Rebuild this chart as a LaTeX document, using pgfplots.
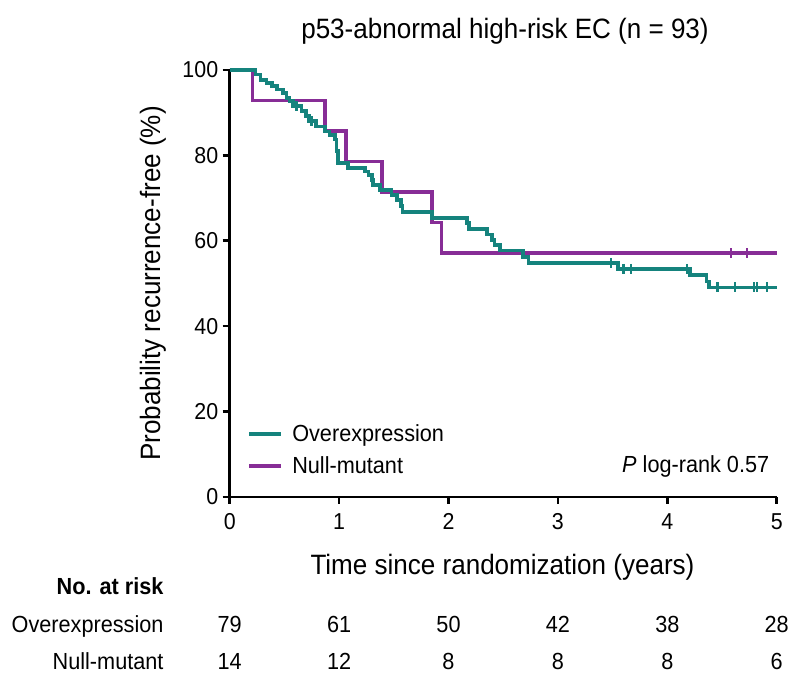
\documentclass[border=0pt]{standalone}
\usepackage{fontspec}
\setmainfont{Liberation Sans}[FakeStretch=0.93]
\usepackage{pgfplots}
\pgfplotsset{compat=1.18}
\definecolor{tealc}{RGB}{21,131,125}
\definecolor{purpc}{RGB}{135,45,150}
\newcommand{\smallf}{\fontsize{23.3}{28}\selectfont}
\newcommand{\bigf}{\fontsize{28}{33}\selectfont}
\begin{document}
\begin{tikzpicture}
\useasboundingbox (0pt,0pt) rectangle (800pt,684pt);
\begin{axis}[
  at={(229.7pt,187pt)}, anchor=south west,
  scale only axis, width=547pt, height=427pt,
  xmin=0, xmax=5, ymin=0, ymax=100,
  axis lines=left, axis line style={-, line width=2.6pt},
  xtick={0,1,2,3,4,5}, ytick={0,20,40,60,80,100},
  tick align=outside, major tick length=7pt,
  tick style={line width=2.6pt, black},
  /pgf/number format/assume math mode=true,
  every tick label/.append style={font=\fontsize{23}{27}\selectfont},
  xticklabel style={yshift=-6pt},
  yticklabel style={xshift=-1pt},
  clip=false,
  reverse legend,
  legend style={draw=none, fill=none, at={(axis description cs:0.0329,0.1693)}, anchor=north west,
    inner sep=0pt, outer sep=0pt, row sep=10pt, column sep=9pt,
    nodes={inner sep=0pt, text height=17pt, text depth=5pt},
    cells={anchor=base west}, font=\smallf},
  legend image code/.code={\draw[#1] (0pt,7.7pt) -- (32pt,7.7pt);},
]
\addplot[const plot, purpc, line width=3.6pt] coordinates {
(0,100) (0.21,92.86) (0.87,85.71) (1.063,78.57) (1.39,71.43) (1.85,64.29) (1.935,57.14) (5,57.14)};
\addlegendentry{Null-mutant}
\addplot[const plot, tealc, line width=3.6pt] coordinates {
(0,100) (0.234,98.9) (0.283,97.7) (0.335,96.9) (0.387,96.2) (0.435,95.4) (0.487,94.6)
(0.518,93.5) (0.548,92.7) (0.58,91.6) (0.655,90.4) (0.70,89.2) (0.725,88.0) (0.79,86.8)
(0.87,85.6) (0.914,84.8) (0.96,83.7) (0.975,81.0) (0.99,78.2) (1.084,77.0) (1.237,76.2)
(1.267,75.4) (1.30,74.2) (1.31,73.1) (1.374,71.9) (1.48,70.7) (1.527,69.6) (1.565,68.1)
(1.58,66.8) (1.85,65.4) (2.17,64.1) (2.19,62.8) (2.35,61.5) (2.40,60.2) (2.42,59.0)
(2.47,57.7) (2.68,56.2) (2.73,54.8) (3.55,53.4) (4.21,52.0) (4.36,50.5) (4.38,49.1) (5,49.1)};
\addlegendentry{Overexpression}
\addplot[forget plot, only marks, mark=|, mark size=5pt, purpc, mark options={line width=2.4pt}] coordinates {
(4.58,57.14) (4.73,57.14)};
\addplot[forget plot, only marks, mark=|, mark size=5pt, tealc, mark options={line width=2.4pt}] coordinates {
(0.61,91.6) (0.746,88.0) (3.485,54.8) (3.60,53.4) (3.67,53.4) (4.18,53.4)
(4.46,49.1) (4.62,49.1) (4.79,49.1) (4.82,49.1) (4.91,49.1)};
\end{axis}
\node[anchor=base, font=\bigf] at (505pt,645.7pt) {p53-abnormal high-risk EC (n = 93)};
\node[anchor=base, font=\bigf] at (502.5pt,109pt) {Time since randomization (years)};
\node[rotate=90, anchor=base, font=\bigf] at (160pt,400.5pt) {Probability recurrence-free (\%)};
\node[anchor=base east, font=\smallf] at (772.7pt,211.5pt) {\textit{P} log-rank 0.57};
\node[anchor=base east, font=\smallf\bfseries] at (167pt,89pt) {No. at risk};
\node[anchor=base east, font=\smallf] at (167pt,51pt) {Overexpression};
\node[anchor=base east, font=\smallf] at (167pt,14pt) {Null-mutant};
\foreach \n [count=\i from 0] in {79,61,50,42,38,28}
  \node[anchor=base, font=\smallf] at (229.7pt+109.4pt*\i,51pt) {\n};
\foreach \n [count=\i from 0] in {14,12,8,8,8,6}
  \node[anchor=base, font=\smallf] at (229.7pt+109.4pt*\i,14pt) {\n};
\end{tikzpicture}
\end{document}
